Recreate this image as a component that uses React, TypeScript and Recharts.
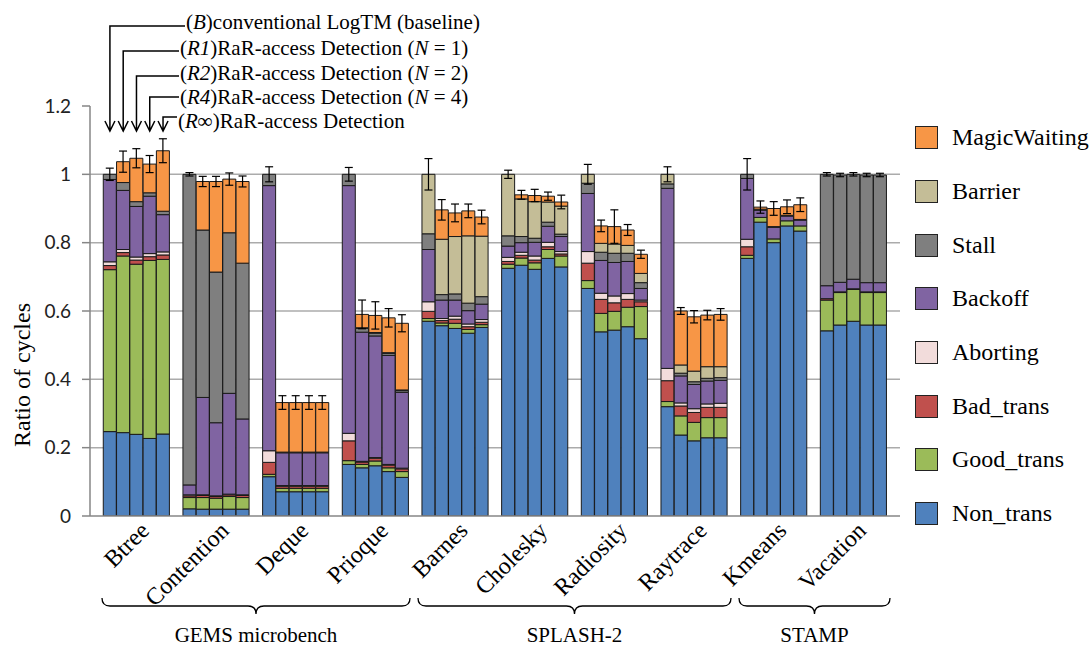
import React from "react";
import { BarChart, Bar, XAxis, YAxis, CartesianGrid, ErrorBar, Legend } from "recharts";

const SERIF = "Liberation Serif, Tinos, DejaVu Serif, serif";
const SANS = 'Lato, "Liberation Sans", sans-serif';

const benchmarks = ["Btree", "Contention", "Deque", "Prioque", "Barnes", "Cholesky", "Radiosity", "Raytrace", "Kmeans", "Vacation"];
// B, R1, R2, R4, R∞ for every benchmark
const configs = ["B", "R1", "R2", "R4", "R∞"];

const nonTrans = [
  [0.247, 0.244, 0.239, 0.227, 0.24],
  [0.021, 0.02, 0.02, 0.02, 0.02],
  [0.115, 0.071, 0.071, 0.071, 0.071],
  [0.151, 0.141, 0.147, 0.13, 0.113],
  [0.57, 0.557, 0.549, 0.535, 0.552],
  [0.725, 0.734, 0.722, 0.754, 0.729],
  [0.666, 0.539, 0.544, 0.554, 0.519],
  [0.32, 0.237, 0.22, 0.229, 0.229],
  [0.754, 0.86, 0.8, 0.849, 0.834],
  [0.542, 0.559, 0.57, 0.559, 0.559],
];
const goodTrans = [
  [0.474, 0.517, 0.498, 0.521, 0.511],
  [0.033, 0.034, 0.032, 0.037, 0.034],
  [0.007, 0.01, 0.01, 0.01, 0.01],
  [0.011, 0.01, 0.014, 0.011, 0.017],
  [0.008, 0.008, 0.015, 0.011, 0.008],
  [0.012, 0.021, 0.019, 0.026, 0.032],
  [0.023, 0.054, 0.055, 0.057, 0.094],
  [0.015, 0.056, 0.054, 0.059, 0.059],
  [0.009, 0.014, 0.011, 0.015, 0.015],
  [0.09, 0.095, 0.093, 0.095, 0.095],
];
const badTrans = [
  [0.012, 0.01, 0.012, 0.011, 0.013],
  [0.005, 0.006, 0.005, 0.005, 0.006],
  [0.035, 0.006, 0.006, 0.006, 0.006],
  [0.058, 0.007, 0.008, 0.008, 0.008],
  [0.021, 0.007, 0.012, 0.008, 0.007],
  [0.008, 0.008, 0.008, 0.008, 0.006],
  [0.051, 0.041, 0.025, 0.023, 0.014],
  [0.061, 0.029, 0.029, 0.03, 0.03],
  [0.025, 0, 0, 0, 0],
  [0.004, 0.002, 0.002, 0.002, 0.002],
];
const aborting = [
  [0.011, 0.009, 0.009, 0.009, 0.009],
  [0.003, 0.002, 0.002, 0.002, 0.002],
  [0.034, 0.002, 0.002, 0.002, 0.002],
  [0.022, 0.002, 0.002, 0.002, 0.002],
  [0.028, 0.006, 0.009, 0.008, 0.008],
  [0.012, 0.009, 0.012, 0.013, 0.007],
  [0.034, 0.018, 0.02, 0.017, 0.005],
  [0.036, 0.009, 0.011, 0.01, 0.012],
  [0.022, 0, 0, 0, 0],
  [0, 0, 0, 0, 0],
];
const backoff = [
  [0.241, 0.173, 0.148, 0.168, 0.109],
  [0.029, 0.285, 0.214, 0.295, 0.222],
  [0.776, 0.096, 0.096, 0.096, 0.096],
  [0.725, 0.378, 0.356, 0.319, 0.222],
  [0.153, 0.054, 0.047, 0.039, 0.045],
  [0.033, 0.028, 0.04, 0.047, 0.044],
  [0.17, 0.096, 0.098, 0.094, 0.034],
  [0.527, 0.079, 0.071, 0.067, 0.067],
  [0.178, 0.021, 0.034, 0.014, 0.017],
  [0.038, 0.028, 0.028, 0.027, 0.027],
];
const stall = [
  [0.015, 0.023, 0.014, 0.01, 0.01],
  [0.909, 0.49, 0.441, 0.47, 0.456],
  [0.033, 0.002, 0.002, 0.002, 0.002],
  [0.033, 0.011, 0.008, 0.006, 0.005],
  [0.046, 0.016, 0.018, 0.022, 0.022],
  [0.03, 0.018, 0.012, 0.012, 0.007],
  [0.03, 0.024, 0.027, 0.024, 0.017],
  [0.013, 0.008, 0.008, 0.008, 0.008],
  [0.012, 0.003, 0.002, 0.002, 0.002],
  [0.326, 0.314, 0.307, 0.315, 0.315],
];
const barrier = [
  [0, 0, 0, 0, 0],
  [0, 0, 0, 0, 0],
  [0, 0, 0, 0, 0],
  [0, 0.002, 0.002, 0.002, 0.002],
  [0.174, 0.162, 0.168, 0.197, 0.177],
  [0.18, 0.11, 0.107, 0.059, 0.082],
  [0.026, 0.026, 0.027, 0.023, 0.027],
  [0.028, 0.024, 0.031, 0.034, 0.032],
  [0, 0, 0, 0, 0],
  [0, 0, 0, 0, 0],
];
const magicWaiting = [
  [0, 0.061, 0.127, 0.084, 0.177],
  [0, 0.142, 0.265, 0.157, 0.239],
  [0, 0.145, 0.145, 0.145, 0.145],
  [0, 0.039, 0.05, 0.102, 0.195],
  [0, 0.086, 0.069, 0.073, 0.056],
  [0, 0.012, 0.018, 0.017, 0.012],
  [0, 0.051, 0.051, 0.045, 0.056],
  [0, 0.158, 0.159, 0.151, 0.153],
  [0, 0.006, 0.053, 0.025, 0.043],
  [0, 0, 0, 0, 0],
];
const errors = [
  [0.018, 0.031, 0.028, 0.025, 0.035],
  [0.005, 0.015, 0.015, 0.018, 0.016],
  [0.022, 0.02, 0.02, 0.02, 0.02],
  [0.02, 0.042, 0.04, 0.027, 0.025],
  [0.046, 0.03, 0.026, 0.02, 0.02],
  [0.012, 0.013, 0.018, 0.012, 0.02],
  [0.029, 0.017, 0.049, 0.016, 0.012],
  [0.022, 0.01, 0.018, 0.014, 0.017],
  [0.046, 0.018, 0.02, 0.02, 0.02],
  [0.005, 0.005, 0.005, 0.005, 0.005],
];

const yTicks = [0, 0.2, 0.4, 0.6, 0.8, 1, 1.2];

// bottom to top of each stack
const series = [
  { key: "nonTrans", name: "Non_trans", color: "#4F81BD", values: nonTrans },
  { key: "goodTrans", name: "Good_trans", color: "#9BBB59", values: goodTrans },
  { key: "badTrans", name: "Bad_trans", color: "#C0504D", values: badTrans },
  { key: "aborting", name: "Aborting", color: "#F2DCDB", values: aborting },
  { key: "backoff", name: "Backoff", color: "#8064A2", values: backoff },
  { key: "stall", name: "Stall", color: "#7F7F7F", values: stall },
  { key: "barrier", name: "Barrier", color: "#C4BD97", values: barrier },
  { key: "magicWaiting", name: "MagicWaiting", color: "#F79646", values: magicWaiting },
];

const groups = [
  { name: "GEMS microbench", from: 102, to: 410 },
  { name: "SPLASH-2", from: 418, to: 731 },
  { name: "STAMP", from: 739, to: 890 },
];

const annotations = [
  { tag: "B", rest: "conventional LogTM (baseline)", n: null, lineY: 26, textX: 186, textY: 29 },
  { tag: "R1", rest: "RaR-access Detection (", n: "1", lineY: 51, textX: 180, textY: 55 },
  { tag: "R2", rest: "RaR-access Detection (", n: "2", lineY: 76, textX: 180, textY: 80 },
  { tag: "R4", rest: "RaR-access Detection (", n: "4", lineY: 97, textX: 180, textY: 104 },
  { tag: "R∞", rest: "RaR-access Detection", n: null, lineY: 117, textX: 178, textY: 128 },
];

// one slot per bar, plus an empty slot before the first group and after each group
const rows: Record<string, any>[] = [{ slot: "pad-0" }];
benchmarks.forEach((bench, g) => {
  configs.forEach((cfg, i) => {
    // "cap" is a hairline on top of the stack that carries the error bar
    const row: Record<string, any> = { slot: `${g}-${i}`, bench, cfg, err: errors[g][i], cap: 0.0001 };
    series.forEach((s) => {
      row[s.key] = s.values[g][i];
    });
    rows.push(row);
  });
  rows.push({ slot: `pad-${g + 1}` });
});

function CategoryTick(props: any) {
  const { x, y, payload } = props;
  const [g, i] = String(payload.value).split("-");
  if (g === "pad" || i !== "2") return <g />;
  const tx = x + 14;
  const ty = y + 8;
  return (
    <text x={tx} y={ty} transform={`rotate(-45 ${tx} ${ty})`} textAnchor="end" fontFamily={SERIF} fontSize={24} fill="#000">
      {benchmarks[Number(g)]}
    </text>
  );
}

function LegendBox() {
  return (
    <div style={{ fontFamily: SERIF, fontSize: 24, color: "#000" }}>
      {[...series].reverse().map((s) => (
        <div key={s.key} style={{ display: "flex", alignItems: "center", height: 53.7 }}>
          <span style={{ width: 21, height: 21, background: s.color, border: "1px solid #222", marginRight: 14, flex: "none" }} />
          <span>{s.name}</span>
        </div>
      ))}
    </div>
  );
}

function bracePath(x1: number, x2: number, y: number) {
  const r = 8;
  const mid = (x1 + x2) / 2;
  return `M${x1},${y} Q${x1},${y + r} ${x1 + r},${y + r} L${mid - r},${y + r} Q${mid},${y + r} ${mid},${y + 2 * r} Q${mid},${y + r} ${mid + r},${y + r} L${x2 - r},${y + r} Q${x2},${y + r} ${x2},${y}`;
}

function Overlay() {
  const slotW = 810 / rows.length;
  return (
    <svg width={1092} height={646} style={{ position: "absolute", left: 0, top: 0, pointerEvents: "none" }}>
      <text x={0} y={0} transform="translate(30 375) rotate(-90)" textAnchor="middle" fontFamily={SERIF} fontSize={24} fill="#000">
        Ratio of cycles
      </text>
      {annotations.map((a, i) => {
        const ax = 90 + slotW * (1.5 + i);
        return (
          <g key={a.tag}>
            <path d={`M${a.textX - 1},${a.lineY} L${ax},${a.lineY} L${ax},131 M${ax - 5},121 L${ax},131 L${ax + 5},121`} fill="none" stroke="#000" strokeWidth={1.5} />
            <text x={a.textX} y={a.textY} fontFamily={SERIF} fontSize={21} fill="#000">
              <tspan>(</tspan>
              <tspan fontStyle="italic">{a.tag}</tspan>
              <tspan>){a.rest}</tspan>
              {a.n && (
                <>
                  <tspan fontStyle="italic">N</tspan>
                  <tspan> = {a.n})</tspan>
                </>
              )}
            </text>
          </g>
        );
      })}
      {groups.map((g) => (
        <g key={g.name}>
          <path d={bracePath(g.from, g.to, 598)} fill="none" stroke="#000" strokeWidth={1.3} />
          <text x={(g.from + g.to) / 2} y={642} textAnchor="middle" fontFamily={SERIF} fontSize={21} fill="#000">
            {g.name}
          </text>
        </g>
      ))}
    </svg>
  );
}

export default function App() {
  return (
    <div style={{ position: "absolute", left: 0, top: 0, width: 1092, height: 646, background: "#fff" }}>
      <BarChart width={1092} height={646} data={rows} margin={{ top: 106, right: 192, left: 0, bottom: 0 }} barCategoryGap={0} barGap={0}>
        <CartesianGrid vertical={false} horizontalValues={[0.2, 0.4, 0.6, 0.8, 1]} stroke="#ABABAB" strokeWidth={1.5} />
        <XAxis dataKey="slot" interval={0} height={130} tickLine={false} axisLine={{ stroke: "#868686", strokeWidth: 1.5 }} tick={<CategoryTick />} />
        <YAxis
          domain={[0, 1.2]}
          ticks={yTicks}
          allowDataOverflow
          width={90}
          tickSize={8}
          tickMargin={11}
          tickFormatter={(v: number) => String(v)}
          axisLine={{ stroke: "#868686", strokeWidth: 1.5 }}
          tickLine={{ stroke: "#868686", strokeWidth: 1.5 }}
          tick={{ fontSize: 19, fill: "#222", fontFamily: SANS }}
        />
        <Legend layout="vertical" align="center" verticalAlign="middle" content={<LegendBox />} wrapperStyle={{ left: 915, top: 111, width: 177 }} />
        {series.map((s) => (
          <Bar key={s.key} dataKey={s.key} name={s.name} stackId="a" fill={s.color} stroke="#1a1a1a" strokeWidth={1} isAnimationActive={false} />
        ))}
        <Bar dataKey="cap" stackId="a" fill="none" stroke="none" legendType="none" isAnimationActive={false}>
          <ErrorBar dataKey="err" width={4} stroke="#000" strokeWidth={1.2} direction="y" />
        </Bar>
      </BarChart>
      <Overlay />
    </div>
  );
}
